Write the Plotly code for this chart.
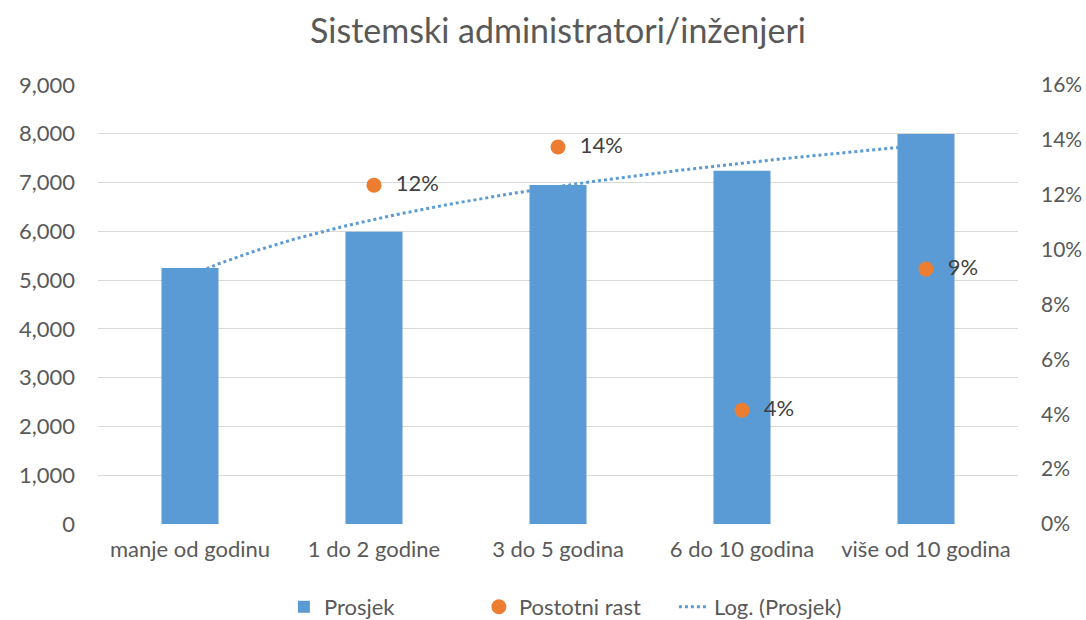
import numpy as np
import plotly.graph_objects as go

categories = ["manje od godinu", "1 do 2 godine", "3 do 5 godina", "6 do 10 godina", "više od 10 godina"]
prosjek = [5250, 5990, 6950, 7240, 7995]
rast_x = [1, 2, 3, 4]
rast = [0.1235, 0.1374, 0.0415, 0.0929]
rast_labels = ["  12%", "  14%", "  4%", "  9%"]
left_ticks = [0, 1000, 2000, 3000, 4000, 5000, 6000, 7000, 8000, 9000]
right_ticks = [0, 0.02, 0.04, 0.06, 0.08, 0.10, 0.12, 0.14, 0.16]

xpos = list(range(len(categories)))

# logarithmic trendline fitted to Prosjek (x = 1..n)
lnx = np.log(np.arange(1, len(prosjek) + 1))
b, a = np.polyfit(lnx, prosjek, 1)
tx = np.linspace(0, len(prosjek) - 1, 200)
ty = a + b * np.log(tx + 1)

FONT = "Lato"
GRAY = "#595959"

fig = go.Figure()
fig.add_trace(go.Bar(x=xpos, y=prosjek, name="Prosjek", marker_color="#5b9bd5",
                     marker_line_width=0, width=0.31, yaxis="y"))
fig.add_trace(go.Scatter(x=rast_x, y=rast, name="Postotni rast", mode="markers+text",
                         marker=dict(color="#ed7d31", size=15), text=rast_labels,
                         textposition="middle right",
                         textfont=dict(size=22, color="#404040", family=FONT),
                         yaxis="y2"))
fig.add_trace(go.Scatter(x=tx, y=ty, name="Log. (Prosjek)", mode="lines",
                         line=dict(color="#5b9bd5", width=3, dash="dot"), yaxis="y"))

fig.update_layout(
    width=1086, height=620,
    paper_bgcolor="white", plot_bgcolor="white",
    margin=dict(l=98, r=68, t=85, b=96, autoexpand=False),
    font=dict(family=FONT, size=22, color=GRAY),
    title=dict(text="Sistemski administratori/inženjeri", x=0.5, xanchor="center",
               xref="paper", y=0.95, yanchor="middle",
               font=dict(size=34, color=GRAY, family=FONT)),
    bargap=0.5,
    xaxis=dict(range=[-0.5, len(categories) - 0.5], tickvals=xpos, ticktext=categories,
               showgrid=False, zeroline=False, showline=False, ticks="",
               ticklabelstandoff=10, tickfont=dict(size=22, color=GRAY)),
    yaxis=dict(range=[0, 9000], tickvals=left_ticks, tickformat=",d",
               showgrid=True, gridcolor="#d9d9d9", gridwidth=1, zeroline=False,
               showline=False, ticks="", ticklabelstandoff=22,
               tickfont=dict(size=22, color=GRAY)),
    yaxis2=dict(range=[0, 0.16], tickvals=right_ticks, tickformat=".0%",
                overlaying="y", side="right", showgrid=False, zeroline=False,
                showline=False, ticks="", ticklabelstandoff=22,
                tickfont=dict(size=21, color=GRAY)),
    legend=dict(orientation="h", x=0.52, xanchor="center", y=-0.189, yanchor="middle",
                font=dict(size=22, color=GRAY), entrywidth=150, entrywidthmode="pixels",
                traceorder="normal"),
    showlegend=True,
)

fig.write_html("out.html", config={"displayModeBar": False},
               post_script="document.body.style.margin='0';document.body.style.overflow='hidden';")
